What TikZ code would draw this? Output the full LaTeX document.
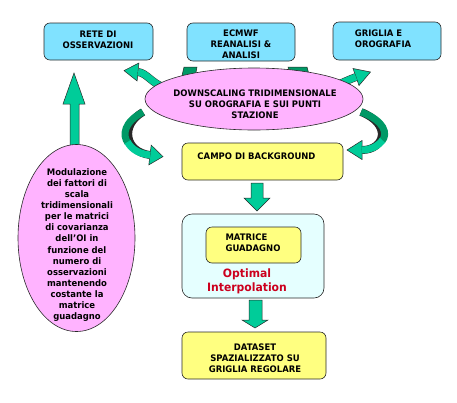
\documentclass[tikz,border=0pt]{standalone}
\usepackage{fontspec}
\setmainfont{DejaVu Sans}[FakeStretch=0.94]
\usetikzlibrary{shapes.geometric}
\definecolor{boxcyan}{RGB}{128,226,255}
\definecolor{boxyellow}{RGB}{255,255,128}
\definecolor{boxpink}{RGB}{255,179,255}
\definecolor{oicyan}{RGB}{229,255,255}
\definecolor{arrlight}{RGB}{0,204,153}
\definecolor{arrdark}{RGB}{0,153,102}
\definecolor{oired}{RGB}{204,0,30}
\definecolor{edge}{RGB}{40,40,40}
\tikzset{
  rbox/.style={draw=edge, line width=0.6pt, rounded corners=6pt, inner sep=0pt},
  cbox/.style={rbox, fill=boxcyan},
  ybox/.style={rbox, fill=boxyellow},
  pell/.style={ellipse, draw=edge, line width=0.6pt, fill=boxpink, inner sep=0pt},
  lbl/.style={font=\bfseries\fontsize{9}{11}\selectfont, align=center, inner sep=0pt},
  blockarr/.style={draw=edge, line width=0.5pt, fill=arrlight},
  darkpiece/.style={draw=edge, line width=0.5pt, fill=arrdark},
  bandout/.style={line width=7.9pt, draw=edge},
  bandin/.style={line width=7pt},
}
\begin{document}
\begin{tikzpicture}[x=1pt,y=-1pt]
\useasboundingbox (0,0) rectangle (457,402);

% top boxes
\node[cbox, minimum width=109pt, minimum height=37pt] (rete) at (98.5,41.5) {};
\node[cbox, minimum width=108pt, minimum height=38pt] (ecmwf) at (241,42) {};
\node[cbox, minimum width=108pt, minimum height=38pt] (griglia) at (387,41) {};
\node[lbl] (retet) at (98,40) {RETE DI\\OSSERVAZIONI};
\node[lbl] (ecmwft) at (241,44.5) {ECMWF\\REANALISI \&\\ANALISI};
\node[lbl, align=left] (grigliat) at (383,39) {GRIGLIA E\\OROGRAFIA};

% dark pieces behind the central ellipse
\filldraw[darkpiece] (184,67) -- (197,67) -- (195,78) -- (181,80) -- cycle;
\filldraw[darkpiece] (288,67) -- (307,67) -- (310,78) -- (290,78) -- cycle;

% upper-left curved arrow
\filldraw[blockarr] (124,70.6) -- (138.9,63) -- (137.1,81) -- cycle;
\draw[bandout] (166,88) .. controls (152,84) and (147,73) .. (138,72);
\draw[bandin, arrlight] (166,88) .. controls (152,84) and (147,73) .. (138,72);

% upper-right curved arrow
\filldraw[blockarr] (370.5,72) -- (353,68.5) -- (359,85.5) -- cycle;
\draw[bandout] (330,88) .. controls (342,83) and (348,80) .. (356,77);
\draw[bandin, arrlight] (330,88) .. controls (342,83) and (348,80) .. (356,77);

% lower-left curved arrow
\filldraw[blockarr] (163,156.6) -- (151.2,145.1) -- (148.8,164.9) -- cycle;
\draw[bandout] (143,112) .. controls (120,125) and (125,152) .. (150,155);
\draw[bandin, arrdark] (143,112) .. controls (124,122) and (122,135) .. (128,143);
\draw[bandin, arrlight] (127.5,142) .. controls (132,150) and (140,154) .. (150.2,155);

% lower-right curved arrow
\filldraw[blockarr] (347,150) -- (362,140.5) -- (362,159.5) -- cycle;
\draw[bandout] (361,112) .. controls (392,124) and (385,150) .. (362,150);
\draw[bandin, arrdark] (361,112) .. controls (385,121) and (388,134) .. (382,141);
\draw[bandin, arrlight] (382.5,140.3) .. controls (377,147) and (370,150) .. (361.8,150);

% central ellipse
\node[pell, minimum width=218pt, minimum height=62pt] (down) at (254,99) {};
\node[lbl] (downt) at (255,104.5) {DOWNSCALING TRIDIMENSIONALE\\SU OROGRAFIA E SUI PUNTI\\STAZIONE};

% big up arrow
\filldraw[blockarr] (70,148) -- (70,104) -- (63,104) -- (74,73) -- (85,104) -- (79,104) -- (79,148) -- cycle;

% left ellipse
\node[pell, minimum width=117pt, minimum height=187pt] (modul) at (76.5,238) {};
\node[lbl, font=\bfseries\fontsize{9}{11.1}\selectfont] (modult) at (77,245) {Modulazione\\dei fattori di\\scala\\tridimensionali\\per le matrici\\di covarianza\\dell’OI in\\funzione del\\numero di\\osservazioni\\mantenendo\\costante la\\matrice\\guadagno};

% campo di background
\node[ybox, minimum width=161pt, minimum height=37pt] (campo) at (262.5,161.5) {};
\node[lbl] (campot) at (256.5,156) {CAMPO DI BACKGROUND};

% arrow 1
\filldraw[blockarr] (251,183) -- (263,183) -- (263,198) -- (270,198) -- (257,211) -- (244,198) -- (251,198) -- cycle;

% optimal interpolation box
\node[rbox, fill=oicyan, rounded corners=10pt, minimum width=142pt, minimum height=84pt] (oi) at (253,256) {};
\node[ybox, minimum width=95pt, minimum height=36pt] (matrice) at (253.5,245) {};
\node[lbl, align=left] (matricet) at (253,242.5) {MATRICE\\GUADAGNO};
\node[lbl, font=\bfseries\fontsize{11.5}{14}\selectfont, text=oired] (oit) at (247,281) {Optimal\\Interpolation};

% arrow 2
\filldraw[blockarr] (249,300) -- (262,300) -- (262,320) -- (268,320) -- (255,328) -- (242,320) -- (249,320) -- cycle;

% dataset
\node[ybox, minimum width=144pt, minimum height=47pt] (dataset) at (254,355.5) {};
\node[lbl] (datasett) at (255,358) {DATASET\\SPAZIALIZZATO SU\\GRIGLIA REGOLARE};
\end{tikzpicture}
\end{document}
